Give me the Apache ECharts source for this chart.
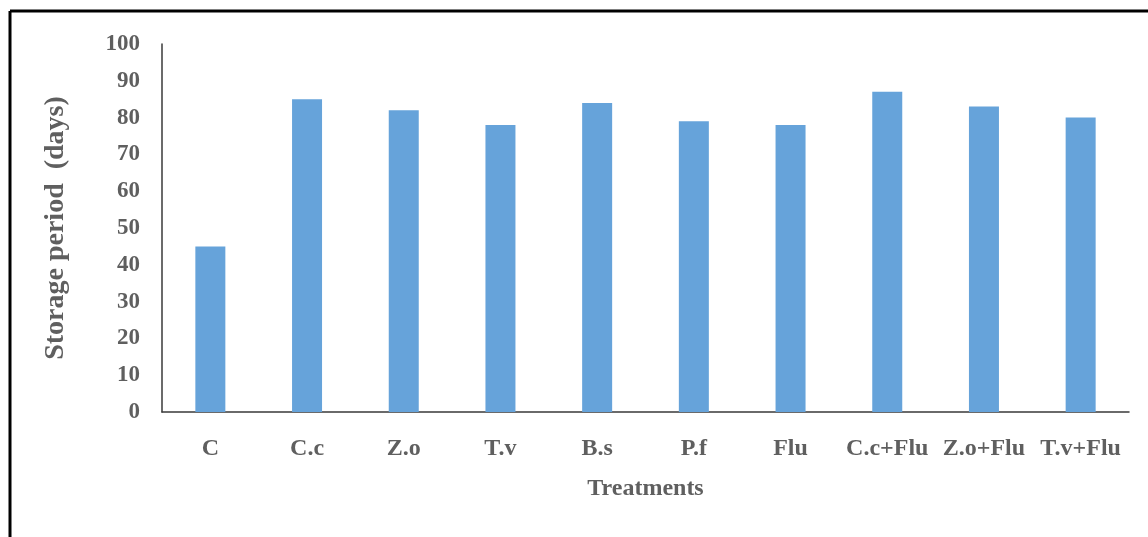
<!DOCTYPE html>
<html>
<head>
<meta charset="utf-8">
<script src="https://cdn.jsdelivr.net/npm/echarts@6/dist/echarts.min.js"></script>
<style>
  html, body { margin: 0; padding: 0; background: #fff; }
  #chart { width: 1148px; height: 537px; }
</style>
</head>
<body>
<div id="chart"></div>
<script>
// treatments on the x axis
const categories = ['C', 'C.c', 'Z.o', 'T.v', 'B.s', 'P.f', 'Flu', 'C.c+Flu', 'Z.o+Flu', 'T.v+Flu'];
// storage period in days
const storageDays = [45, 85, 82, 78, 84, 79, 78, 87, 83, 80];

const textColor = '#5f5f5f';
const font = '"Liberation Serif", "Times New Roman", serif';

const chart = echarts.init(document.getElementById('chart'));
const option = {
    animation: false,
    backgroundColor: '#fff',
    grid: {
        left: 162,
        right: 19,
        top: 44,
        bottom: 125,
    },
    // outer frame: left and top edges only
    graphic: [
        { type: 'line', shape: { x1: 10, y1: 11, x2: 10, y2: 537 }, style: { stroke: '#000', lineWidth: 3 } },
        { type: 'line', shape: { x1: 10, y1: 11, x2: 1148, y2: 11 }, style: { stroke: '#000', lineWidth: 3 } },
    ],
    xAxis: {
        type: 'category',
        data: categories,
        name: 'Treatments',
        nameLocation: 'middle',
        nameGap: 65,
        nameTextStyle: { color: textColor, fontFamily: font, fontWeight: 'bold', fontSize: 24 },
        axisLine: { lineStyle: { color: '#3a3a3a', width: 1.5 } },
        axisTick: { show: false },
        axisLabel: { interval: 0, color: textColor, fontFamily: font, fontWeight: 'bold', fontSize: 24, margin: 25 },
    },
    yAxis: {
        type: 'value',
        min: 0,
        max: 100,
        interval: 10,
        name: 'Storage period  (days)',
        nameLocation: 'middle',
        nameGap: 92,
        nameTextStyle: { color: textColor, fontFamily: font, fontWeight: 'bold', fontSize: 28 },
        axisLine: { show: true, lineStyle: { color: '#3a3a3a', width: 1.5 } },
        axisTick: { show: false },
        splitLine: { show: false },
        axisLabel: { color: textColor, fontFamily: font, fontWeight: 'bold', fontSize: 23, margin: 22 },
    },
    series: [
        {
            type: 'bar',
            data: storageDays,
            barWidth: 30,
            itemStyle: { color: '#66A3DA' },
        },
    ],
};
chart.setOption(option);
</script>
</body>
</html>
